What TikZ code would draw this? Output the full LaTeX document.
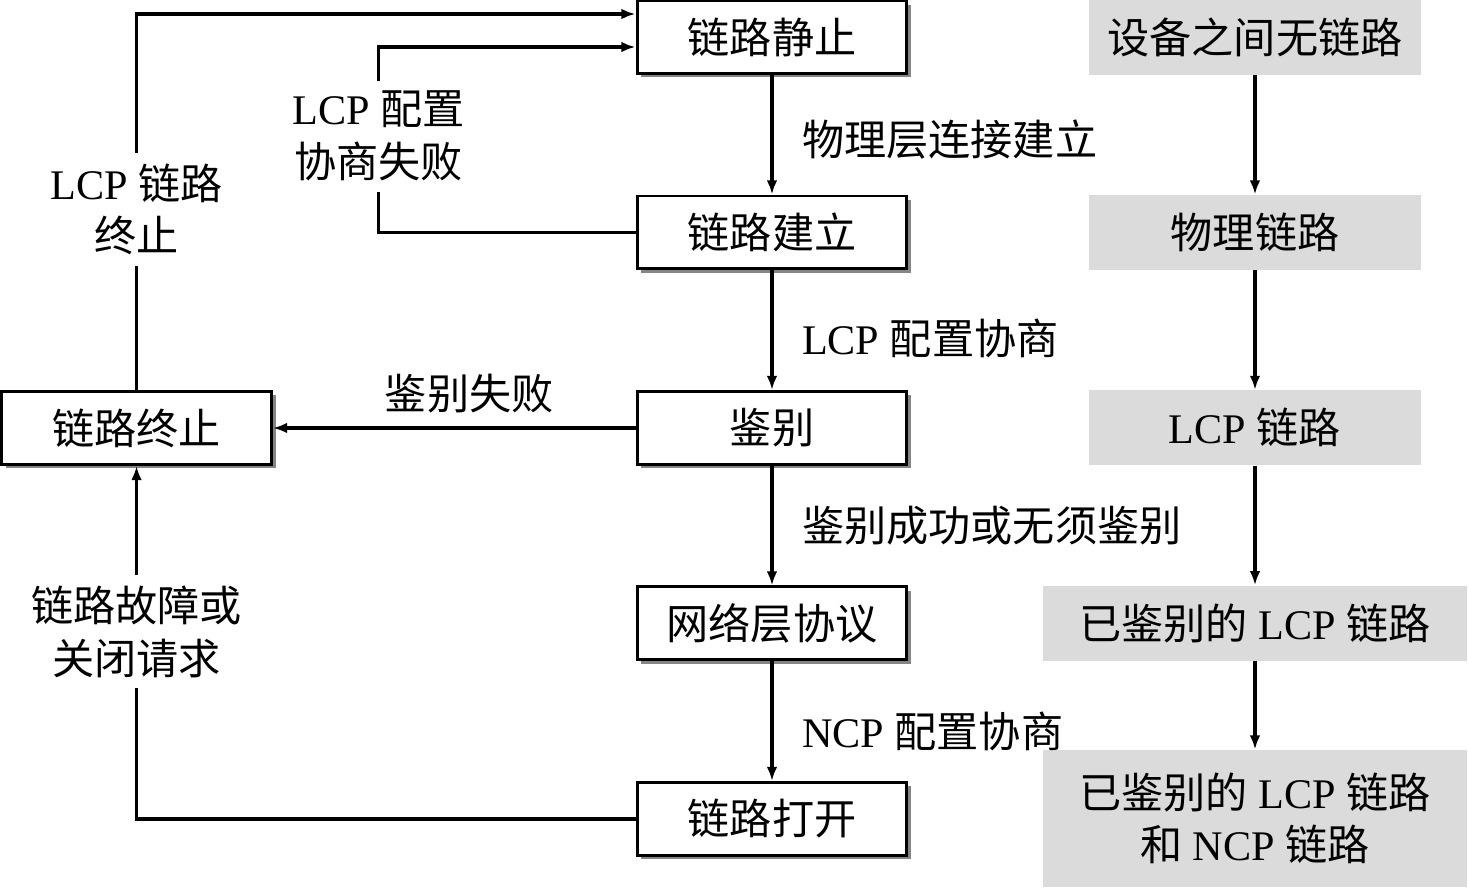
\documentclass[tikz,border=0pt]{standalone}
\usepackage{fontspec}
\setmainfont{Liberation Serif}
\newfontfamily\cjk{Noto Sans CJK SC}
\usetikzlibrary{shadows,arrows.meta}
\newcommand{\zh}[1]{{\cjk #1}}
\tikzstyle{stateBox}=[draw, line width=1.7pt, fill=white, minimum width=5.4cm,
  minimum height=1.46cm, drop shadow={shadow xshift=0.08cm, shadow yshift=-0.08cm,
  fill=black!60, opacity=0.8}]
\tikzstyle{linkBox}=[fill=black!14, minimum width=6.64cm, minimum height=1.5cm]
\tikzstyle{wideBox}=[linkBox, minimum width=8.5cm, align=center]
\tikzstyle{line}=[draw, line width=1.8pt, -{Latex[length=8pt, width=6pt]}]
\tikzstyle{texto}=[right, inner sep=2pt, xshift=0.5cm]
\tikzstyle{gap}=[fill=white, align=center, inner sep=6pt]
\newcommand{\stateElt}[2]{node (s#1) [stateBox] {\zh{#2}}}
\newcommand{\linkElt}[3]{node (l#1) [#2] {#3}}

\begin{document}
\begin{tikzpicture}[x=0.02cm, y=-0.02cm,
  every node/.style={font=\fontsize{24}{30}\selectfont}]
  \useasboundingbox (0,0) rectangle (1468,887);

  % Draw link states
  \path (772,37) \stateElt{1}{链路静止};
  \path (s1.south)+(0,157.5) \stateElt{2}{链路建立};
  \path (s2.south)+(0,157.5) \stateElt{3}{鉴别};
  \path (s3.south)+(0,157.5) \stateElt{4}{网络层协议};
  \path (s4.south)+(0,157.5) \stateElt{5}{链路打开};
  \path (s3.west)+(-499,0) node (t) [stateBox] {\zh{链路终止}};

  % Draw what the link is in each state
  \path (1255,37) \linkElt{1}{linkBox}{\zh{设备之间无链路}};
  \path (l1.south)+(0,157.5) \linkElt{2}{linkBox}{\zh{物理链路}};
  \path (l2.south)+(0,157.5) \linkElt{3}{linkBox}{LCP \zh{链路}};
  \path (l3.south)+(0,157.5) \linkElt{4}{wideBox}{\zh{已鉴别的} LCP \zh{链路}};
  \path (l4.south)+(0,157.5) \linkElt{5}{wideBox, minimum height=2.74cm}
    {\zh{已鉴别的} LCP \zh{链路}\\\zh{和} NCP \zh{链路}};

  % Draw arrows between states
  \path [line] (s1) -- node [texto, yshift=-0.1cm] {\zh{物理层连接建立}} (s2);
  \path [line] (s2) -- node [texto, yshift=-0.16cm] {LCP \zh{配置协商}} (s3);
  \path [line] (s3) -- node [texto] {\zh{鉴别成功或无须鉴别}} (s4);
  \path [line] (s4) -- node [texto, yshift=-0.2cm] {NCP \zh{配置协商}} (s5);

  \path [line] (s3.west) -- node [above=4pt, xshift=0.3cm] {\zh{鉴别失败}} (t.east);
  \path [line] (s5.west) -| node [gap, pos=0.765] {\zh{链路故障或}\\\zh{关闭请求}} (t.south);
  \path [line] (t.north) |- node [gap, pos=0.24] {LCP \zh{链路}\\\zh{终止}}
    ([yshift=0.46cm]s1.west);
  \path [line] (s2.west) -| node [gap, pos=0.76] {LCP \zh{配置}\\\zh{协商失败}}
    ([xshift=-5.14cm, yshift=-0.2cm]s1.west) -- ([yshift=-0.2cm]s1.west);

  % Draw arrows between link kinds
  \path [line] (l1) -- (l2);
  \path [line] (l2) -- (l3);
  \path [line] (l3) -- (l4);
  \path [line] (l4) -- (l5);
\end{tikzpicture}
\end{document}
